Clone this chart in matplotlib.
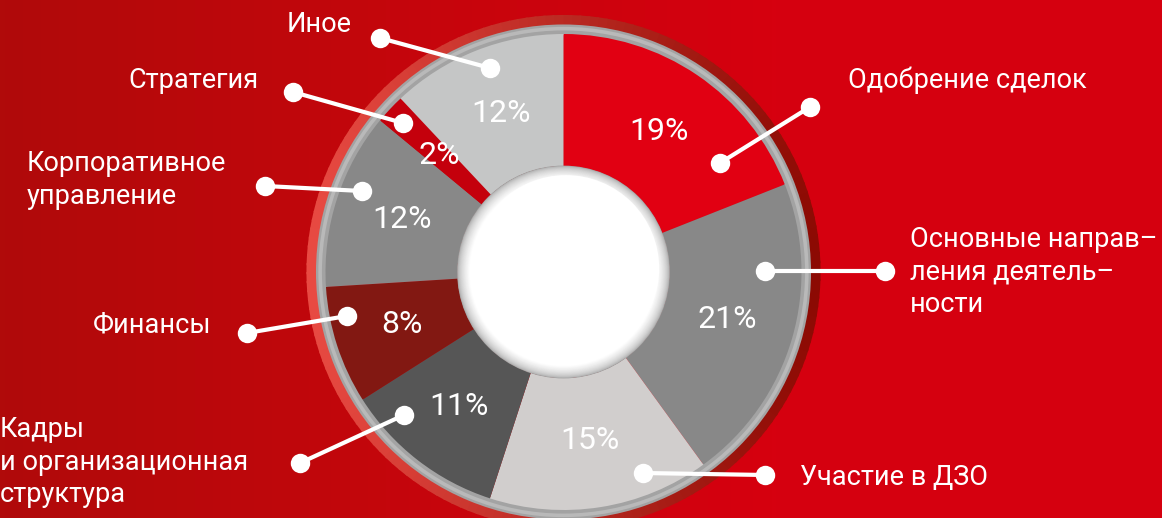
import matplotlib
matplotlib.use('Agg')
import matplotlib.pyplot as plt
from matplotlib.patches import Wedge, Circle
from matplotlib.colors import LinearSegmentedColormap, to_rgb
import numpy as np

plt.rcParams['font.family'] = ['Roboto', 'DejaVu Sans']

# data
labels = ["Одобрение сделок",
          "Основные направ–\nления деятель–\nности",
          "Участие в ДЗО",
          "Кадры\nи организационная\nструктура",
          "Финансы",
          "Корпоративное\nуправление",
          "Стратегия",
          "Иное"]
shares = [19, 21, 15, 11, 8, 12, 2, 12]
colors = ["#e10012", "#888888", "#d1cecd", "#565656",
          "#821812", "#888888", "#c4000c", "#c5c6c6"]

# layout in pixels of the 1162x518 picture
W, H = 1162, 518
CX, CY = 563.5, 272.0
R = 238.0

def px(x, y):
    return (x - CX) / R, (CY - y) / R

# text anchor, alignment, dot inside wedge, dot near label
callouts = [
    ((848, 80), 'left', (720, 163), (810, 107)),
    ((910, 272), 'left', (765, 271), (885, 271)),
    ((800, 478), 'left', (643, 473), (765, 475)),
    ((0, 462), 'left', (404, 415), (300, 463)),
    ((211, 325), 'right', (347, 316), (247, 333)),
    ((27, 180), 'left', (362, 191), (265, 186)),
    ((258, 80), 'right', (403, 123), (293, 92)),
    ((352, 25), 'right', (490, 68), (380, 38)),
]

fig = plt.figure(figsize=(W / 100, H / 100), dpi=100)
ax = fig.add_axes([0, 0, 1, 1])

x0, y1 = px(0, 0)
x1, y0 = px(W, H)

# background gradient
bg = LinearSegmentedColormap.from_list('bg', ["#b00a0a", "#c4060c", "#d6000f", "#d5000f"])
ax.imshow(np.linspace(0, 1, 256).reshape(1, -1), cmap=bg, aspect='auto',
          extent=[x0, x1, y0, y1], zorder=0)

# outer shaded ring: light red on the left, dark red on the right
light = np.array(to_rgb("#e84a42"))
dark = np.array(to_rgb("#8c0a03"))
for a in range(0, 360, 2):
    t = (np.cos(np.radians(a + 1)) + 1) / 2
    c = light * (1 - t) + dark * t
    ax.add_patch(Wedge((0, 0), 1.08, a, a + 2.5, width=0.045, color=c, lw=0, zorder=1))

# gray rim
ax.add_patch(Wedge((0, 0), 1.04, 0, 360, width=0.045, color="#a3a3a3", lw=0, zorder=1))
ax.add_patch(Wedge((0, 0), 1.03, 0, 360, width=0.015, color="#b9b9b9", lw=0, zorder=1))

wedges, texts, autotexts = ax.pie(
    shares, colors=colors, startangle=90, counterclock=False, radius=1.0,
    wedgeprops=dict(width=0.555, linewidth=0),
    autopct=lambda p: f"{p:.0f}%", pctdistance=0.715,
    textprops=dict(color='white', fontsize=23))
for w in wedges:
    w.set_zorder(2)
for t in autotexts:
    t.set_zorder(4)

# shaded hole
hole_r = 0.447
steps = 30
for i in range(steps):
    r = hole_r - i * 0.0018
    g = 0.62 + 0.38 * (i / (steps - 1)) ** 0.5
    ax.add_patch(Circle((0, 0), r, color=(g, g, g), lw=0, zorder=3))
ax.add_patch(Circle((0.01, 0.015), hole_r - 0.055, color='white', lw=0, zorder=3))

# callouts
for lab, (tpos, ha, p_in, p_out) in zip(labels, callouts):
    xa, ya = px(*p_in)
    xb, yb = px(*p_out)
    ax.plot([xa, xb], [ya, yb], color='white', lw=3, zorder=5,
            marker='o', ms=14, mec='none', mfc='white')
    tx, ty = px(*tpos)
    ax.text(tx, ty, lab, color='white', fontsize=19.5, ha=ha, va='center',
            multialignment='left', linespacing=1.27, zorder=6)

ax.set_xlim(x0, x1)
ax.set_ylim(y0, y1)
ax.set_aspect('equal')
ax.axis('off')

fig.savefig('out.png', dpi=100)
